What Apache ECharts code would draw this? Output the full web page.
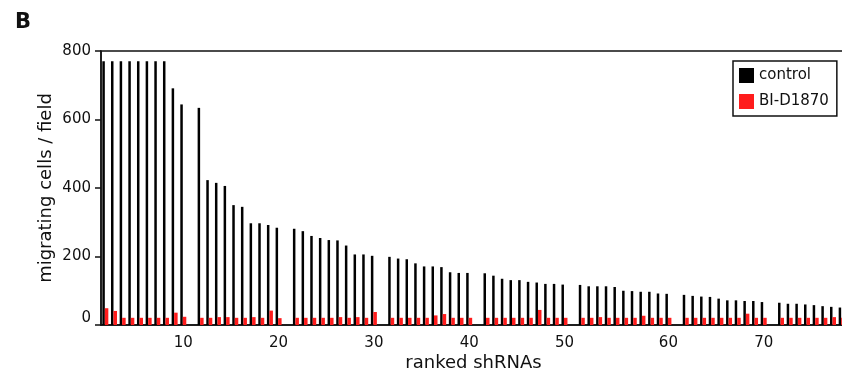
<!DOCTYPE html>
<html>
<head>
<meta charset="utf-8">
<script src="https://cdn.jsdelivr.net/npm/echarts@6/dist/echarts.min.js"></script>
<style>
  html, body { margin: 0; padding: 0; background: #fff; }
  #chart { width: 842px; height: 372px; }
</style>
</head>
<body>
<div id="chart"></div>
<script>
  // control bars, one array per block of ranked shRNAs
  const controlGroups = [
    [770, 770, 770, 770, 770, 770, 770, 770, 691, 644],
    [634, 423, 415, 406, 350, 345, 297, 297, 292, 284],
    [281, 274, 260, 254, 248, 247, 232, 206, 206, 202],
    [199, 194, 192, 180, 171, 171, 169, 154, 152, 152],
    [151, 144, 135, 131, 131, 126, 124, 120, 120, 118],
    [117, 113, 113, 113, 111, 100, 99, 97, 97, 92, 91],
    [88, 85, 83, 82, 77, 72, 72, 70, 70, 67],
    [65, 62, 62, 60, 58, 55, 53, 51]
  ]
  // BI-D1870 bars, same layout
  const treatedGroups = [
    [49, 41, 21, 21, 21, 21, 21, 21, 36, 24],
    [21, 21, 23, 23, 21, 21, 23, 21, 42, 20],
    [21, 21, 21, 21, 21, 23, 21, 23, 21, 38],
    [21, 21, 21, 21, 21, 28, 32, 21, 21, 21],
    [21, 21, 21, 21, 21, 21, 44, 21, 21, 21],
    [21, 21, 23, 21, 21, 21, 21, 27, 21, 21, 21],
    [21, 21, 21, 21, 21, 21, 21, 33, 21, 21],
    [21, 21, 21, 21, 21, 21, 23, 21]
  ]
  // label shown under the last bar of each block
  const tickLabels = ['10', '20', '30', '40', '50', '60', '70', '']
  const yTicks = [0, 200, 400, 600, 800]

  const categories = []
  const control = []
  const treated = []
  controlGroups.forEach((grp, g) => {
    grp.forEach((v, i) => {
      categories.push(i === grp.length - 1 ? tickLabels[g] : '')
      control.push(v)
      treated.push(treatedGroups[g][i])
    })
    if (g < controlGroups.length - 1) { // empty slot between blocks
      categories.push('')
      control.push(null)
      treated.push(null)
    }
  })

  const font = 'DejaVu Sans'
  const ink = '#111'

  const chart = echarts.init(document.getElementById('chart'))
  chart.setOption({
    animation: false,
    title: {
      text: 'B',
      left: 10,
      top: 7,
      textStyle: {fontFamily: font, fontWeight: 'bold', fontSize: 21, color: ink}
    },
    legend: {
      orient: 'vertical',
      left: 733,
      top: 61,
      icon: 'rect',
      itemWidth: 15,
      itemHeight: 15,
      itemGap: 11,
      padding: [7, 8, 7, 6],
      borderColor: ink,
      borderWidth: 1.5,
      textStyle: {fontFamily: font, fontSize: 15, color: ink},
      data: ['control', 'BI-D1870']
    },
    grid: {
      left: 101,
      right: -4,
      top: 51,
      bottom: 47,
      outerBoundsMode: 'none',
      show: true,
      borderColor: ink,
      borderWidth: 1.5
    },
    xAxis: {
      type: 'category',
      data: categories,
      name: 'ranked shRNAs',
      nameLocation: 'middle',
      nameGap: 29,
      nameMoveOverlap: false,
      nameTextStyle: {fontFamily: font, fontSize: 18, color: ink},
      axisLine: {lineStyle: {color: ink, width: 1.5}},
      axisTick: {
        alignWithLabel: true,
        length: 6,
        lineStyle: {color: ink, width: 1.5},
        interval: (idx, val) => val !== ''
      },
      axisLabel: {interval: 0, margin: 11, fontFamily: font, fontSize: 15, color: ink}
    },
    yAxis: {
      type: 'value',
      min: yTicks[0],
      max: yTicks[yTicks.length - 1],
      interval: yTicks[1] - yTicks[0],
      name: 'migrating cells / field',
      nameLocation: 'middle',
      nameGap: 46,
      nameMoveOverlap: false,
      nameTextStyle: {fontFamily: font, fontSize: 18, color: ink},
      axisLine: {show: true, lineStyle: {color: ink, width: 1.5}},
      axisTick: {show: true, length: 6, lineStyle: {color: ink, width: 1.5}},
      splitLine: {show: false},
      axisLabel: {
        margin: 10,
        fontFamily: font,
        fontSize: 15,
        color: ink,
        formatter: v => v === 0 ? '{z|0}' : String(v),
        rich: {z: {fontFamily: font, fontSize: 15, color: ink, padding: [0, 0, 14, 0]}}
      }
    },
    series: [
      {
        name: 'control',
        type: 'bar',
        data: control,
        barWidth: 2.5,
        barGap: '0%',
        itemStyle: {color: '#000'}
      },
      {
        name: 'BI-D1870',
        type: 'bar',
        data: treated,
        barWidth: 3.5,
        barGap: '0%',
        itemStyle: {color: '#ff1c1c'}
      }
    ]
  })
</script>
</body>
</html>
